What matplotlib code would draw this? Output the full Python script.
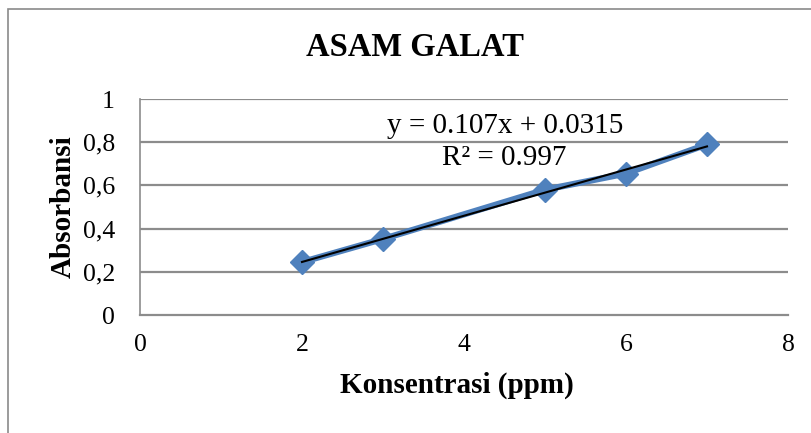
import matplotlib
matplotlib.use("Agg")
import matplotlib.pyplot as plt
from matplotlib.patches import Rectangle
import numpy as np

x_vals = [2, 3, 5, 6, 7]
y_vals = [0.245, 0.352, 0.580, 0.655, 0.790]
slope, intercept = 0.107, 0.0315
eq_text = "y = 0.107x + 0.0315"
r2_text = "R² = 0.997"
title = "ASAM GALAT"
xlabel = "Konsentrasi (ppm)"
ylabel = "Absorbansi"
xticks = [0, 2, 4, 6, 8]
yticks = [0, 0.2, 0.4, 0.6, 0.8, 1.0]
ytick_labels = ["0", "0,2", "0,4", "0,6", "0,8", "1"]

plt.rcParams['font.family'] = ['Liberation Serif', 'DejaVu Serif']

fig = plt.figure(figsize=(8.12, 4.33), dpi=100)
ax = fig.add_axes([140/812, 1-315/433, (788-140)/812, (315-99)/433])

# outer chart border
fig.patches.append(Rectangle((8/812, -0.05), 1.2, 1.05 - 9/433, transform=fig.transFigure,
                             fill=False, edgecolor='#8a8a8a', linewidth=1.2))

ax.set_xlim(0, 8)
ax.set_ylim(0, 1)
for yt in yticks[1:]:
    ax.axhline(yt, color='#8c8c8c', linewidth=1.6, zorder=1)
for s in ['top', 'right']:
    ax.spines[s].set_visible(False)
ax.spines['bottom'].set_color('#8c8c8c')
ax.spines['bottom'].set_linewidth(1.6)
ax.spines['left'].set_color('#8c8c8c')
ax.spines['left'].set_linewidth(1.2)

ax.plot(x_vals, y_vals, color='#4F81BD', linewidth=4.5, marker='D', markersize=12,
        markerfacecolor='#4F81BD', markeredgecolor='#4F81BD', zorder=3, clip_on=False)
xt = np.array([min(x_vals), max(x_vals)])
ax.plot(xt, slope*xt + intercept, color='black', linewidth=1.5, zorder=4)

ax.set_xticks(xticks)
ax.set_xticklabels([str(v) for v in xticks])
ax.set_yticks(yticks)
ax.set_yticklabels(ytick_labels)
ax.tick_params(axis='both', length=0, labelsize=18.5)
ax.tick_params(axis='x', pad=14)
ax.tick_params(axis='y', pad=18)

ax.set_xlabel(xlabel, fontsize=21, fontweight='bold')
ax.xaxis.set_label_coords((457-140)/648, -(385-315)/216, transform=ax.transAxes)
ax.xaxis.label.set_va('center')
ax.set_ylabel(ylabel, fontsize=21, fontweight='bold', labelpad=4)

fig.text(415/812, 1-48/433, title, ha='center', va='center', fontsize=23.5, fontweight='bold')
fig.text(505/812, 1-126/433, eq_text, ha='center', va='center', fontsize=21)
fig.text(504/812, 1-158/433, r2_text, ha='center', va='center', fontsize=21)

fig.savefig("out.png", dpi=100)
